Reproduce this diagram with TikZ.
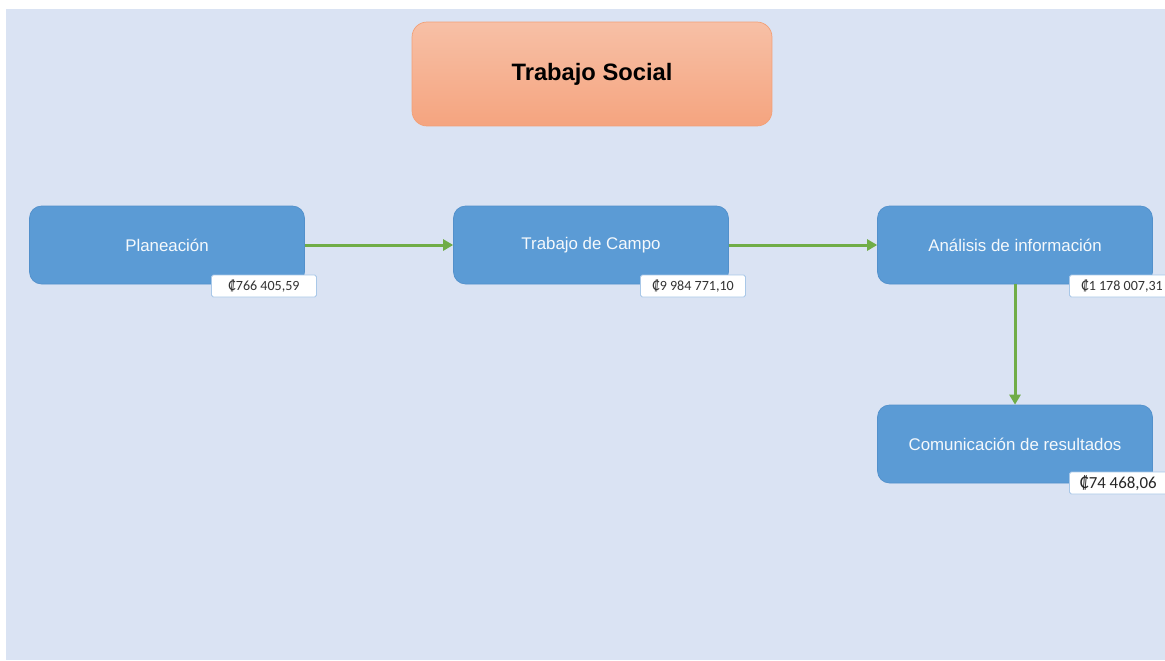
\documentclass[tikz,border=0pt]{standalone}
\usepackage{fontspec}
\setmainfont{Liberation Sans}
\newfontfamily\costfont{Carlito}
\usetikzlibrary{arrows.meta}
\definecolor{bgblue}{HTML}{DAE3F3}
\definecolor{boxblue}{HTML}{5B9BD5}
\definecolor{boxedge}{HTML}{5290CB}
\definecolor{flowgreen}{HTML}{70AD47}
\definecolor{titletop}{HTML}{F7C0A6}
\definecolor{titlebot}{HTML}{F5A47F}
\definecolor{titleedge}{HTML}{F2A077}
\definecolor{tagedge}{HTML}{A9C8E8}

\begin{document}
\begin{tikzpicture}[x=0.02cm,y=-0.02cm,>={Triangle[length=0.2cm,width=0.22cm]},
    stage/.style={draw=boxedge,fill=boxblue,rounded corners=0.24cm,
        minimum width=5.5cm,minimum height=1.56cm,text=white!94!boxblue,
        font=\fontsize{9.6}{11}\selectfont},
    costtag/.style={draw=tagedge,fill=white,rounded corners=1pt,line width=0.5pt,
        minimum width=2.1cm,minimum height=0.44cm,inner sep=0pt,text=black!80,
        font=\costfont\fontsize{8}{9}\selectfont},
    flow/.style={->,flowgreen,line width=1.7pt}]
    % Background
    \useasboundingbox (0,0) rectangle (1165,660);
    \fill[bgblue] (6,9) rectangle (1165,660);

    % Title
    \node[draw=titleedge,top color=titletop,bottom color=titlebot,rounded corners=0.3cm,
        minimum width=7.2cm,minimum height=2.08cm,
        font=\bfseries\fontsize{13.5}{16}\selectfont] (title) at (592,74) {Trabajo Social};

    % Stages
    \node[stage] (plan) at (167,245) {Planeación};
    \node[stage] (campo) at (591,245) {Trabajo de Campo};
    \node[stage] (analisis) at (1015,245) {Análisis de información};
    \node[stage] (comunic) at (1015,444) {Comunicación de resultados};

    % Flow
    \draw[flow] (plan) -- (campo);
    \draw[flow] (campo) -- (analisis);
    \draw[flow] (analisis) -- (comunic);

    % Costs
    \node[costtag] (c1) at (264,286) {₡766 405,59};
    \node[costtag] (c2) at (693,286) {₡9 984 771,10};
    \node[costtag] (c3) at (1122,286) {₡1 178 007,31};
    \node[costtag,font=\costfont\fontsize{9.6}{11}\selectfont,text=black!85] (c4) at (1122,483)
        {\hspace*{-0.15cm}₡74 468,06};
\end{tikzpicture}
\end{document}
